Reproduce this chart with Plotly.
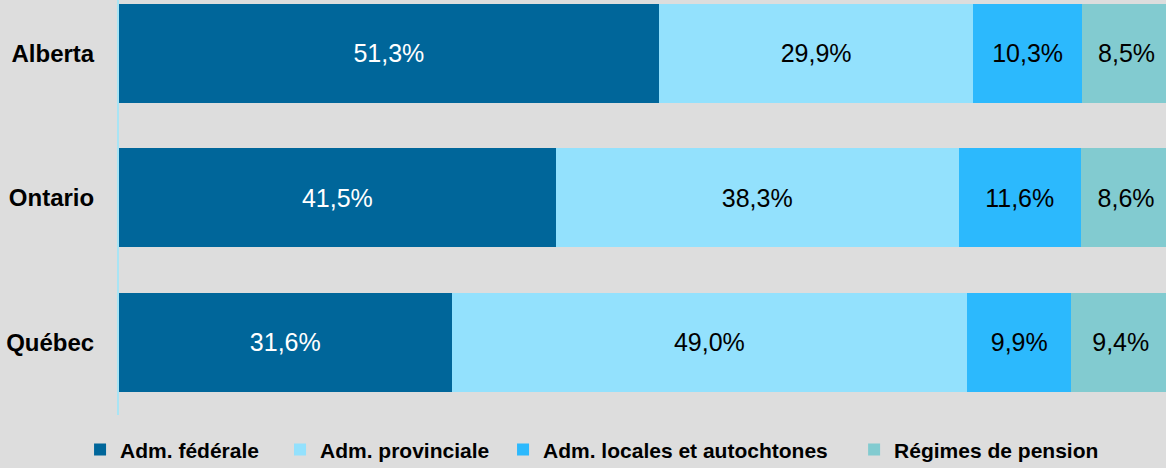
import plotly.graph_objects as go

provinces = ["Alberta", "Ontario", "Québec"]
series_names = ["Adm. fédérale", "Adm. provinciale", "Adm. locales et autochtones", "Régimes de pension"]
federal = [51.3, 41.5, 31.6]
provincial = [29.9, 38.3, 49.0]
local = [10.3, 11.6, 9.9]
pension = [8.5, 8.6, 9.4]
values = [federal, provincial, local, pension]
colors = ["#00669a", "#93e1fd", "#2cb9fd", "#82cbd0"]
text_colors = ["white", "black", "black", "black"]
legend_ids = ["legend", "legend2", "legend3", "legend4"]
legend_x = [-0.0372, 0.1538, 0.3668, 0.7021]

FONT = "Liberation Sans"

fig = go.Figure()
for name, vals, col, tcol, lid in zip(series_names, values, colors, text_colors, legend_ids):
    fig.add_trace(go.Bar(
        y=provinces, x=vals, name=name, orientation="h",
        marker=dict(color=col, line=dict(width=0)),
        width=0.685,
        text=[f"{v:.1f}%".replace(".", ",") for v in vals],
        textposition="inside", insidetextanchor="middle",
        textfont=dict(color=tcol, size=25, family=FONT),
        hoverinfo="skip",
        legend=lid,
    ))

legend_style = dict(orientation="h", xanchor="left", y=-0.084, yanchor="middle",
                    font=dict(family=FONT, size=21, color="black", weight="bold"),
                    itemwidth=30, bgcolor="rgba(0,0,0,0)", borderwidth=0)

fig.update_layout(
    barmode="stack",
    width=1166, height=468,
    paper_bgcolor="#dddddd", plot_bgcolor="#dddddd",
    margin=dict(l=119, r=0, t=0, b=53, autoexpand=False),
    showlegend=True,
    font=dict(family=FONT),
)
for lid, lx in zip(legend_ids, legend_x):
    fig.update_layout({lid: dict(x=lx, **legend_style)})

fig.update_xaxes(range=[0, 99.5], showgrid=False, zeroline=False, showticklabels=False, fixedrange=True)
fig.update_yaxes(type="category", range=[2.502, -0.37], showgrid=False, zeroline=False,
                 showline=True, linecolor="#a8e4f4", linewidth=2,
                 ticks="", ticklabelstandoff=18, fixedrange=True,
                 tickfont=dict(family=FONT, size=24, color="black", weight="bold"))

fig.write_html("out.html", config={"displayModeBar": False},
               post_script="document.body.style.margin='0';")
